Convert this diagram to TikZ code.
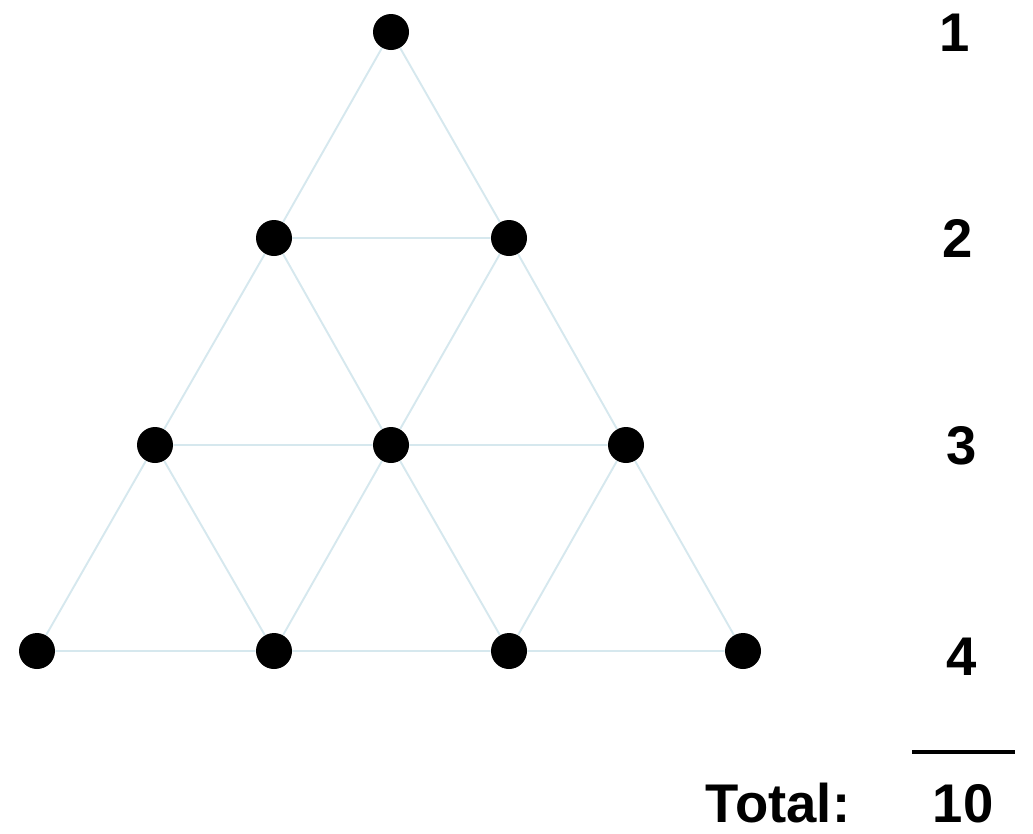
\documentclass[tikz,border=0pt]{standalone}
\usepackage{fontspec}
\setmainfont{Liberation Sans}
\definecolor{edgecol}{RGB}{214,232,238}
\pgfdeclarelayer{background}
\pgfsetlayers{background,main}
\begin{document}
\begin{tikzpicture}[x=0.02cm,y=-0.02cm,
  dot/.style={circle,fill=black,inner sep=0pt,minimum size=0.72cm},
  edge/.style={draw=edgecol,line width=1.1pt},
  lbl/.style={font=\fontsize{31}{36}\selectfont\bfseries,inner sep=0pt}]
\useasboundingbox (0,0) rectangle (1033,833);
\node[dot] (a1) at (391,32) {};
\node[dot] (b1) at (274,238) {};
\node[dot] (b2) at (509,238) {};
\node[dot] (c1) at (155,445) {};
\node[dot] (c2) at (391,445) {};
\node[dot] (c3) at (626,445) {};
\node[dot] (d1) at (37,651) {};
\node[dot] (d2) at (274,651) {};
\node[dot] (d3) at (509,651) {};
\node[dot] (d4) at (743,651) {};
\begin{pgfonlayer}{background}
\path[edge] (a1) -- (b1) (a1) -- (b2) (b1) -- (b2)
  (b1) -- (c1) (b1) -- (c2) (b2) -- (c2) (b2) -- (c3)
  (c1) -- (c2) (c2) -- (c3)
  (c1) -- (d1) (c1) -- (d2) (c2) -- (d2) (c2) -- (d3)
  (c3) -- (d3) (c3) -- (d4)
  (d1) -- (d2) (d2) -- (d3) (d3) -- (d4);
\end{pgfonlayer}
\node[lbl] (n1) at (955,33) {1};
\node[lbl] (n2) at (958,238) {2};
\node[lbl] (n3) at (962,446) {3};
\node[lbl] (n4) at (962,657) {4};
\coordinate (ls) at (912,752);
\coordinate (le) at (1015,752);
\draw[line width=2.2pt] (ls) -- (le);
\node[lbl] (tot) at (778,803) {Total:};
\node[lbl] (ten) at (963,804) {10};
\end{tikzpicture}
\end{document}
